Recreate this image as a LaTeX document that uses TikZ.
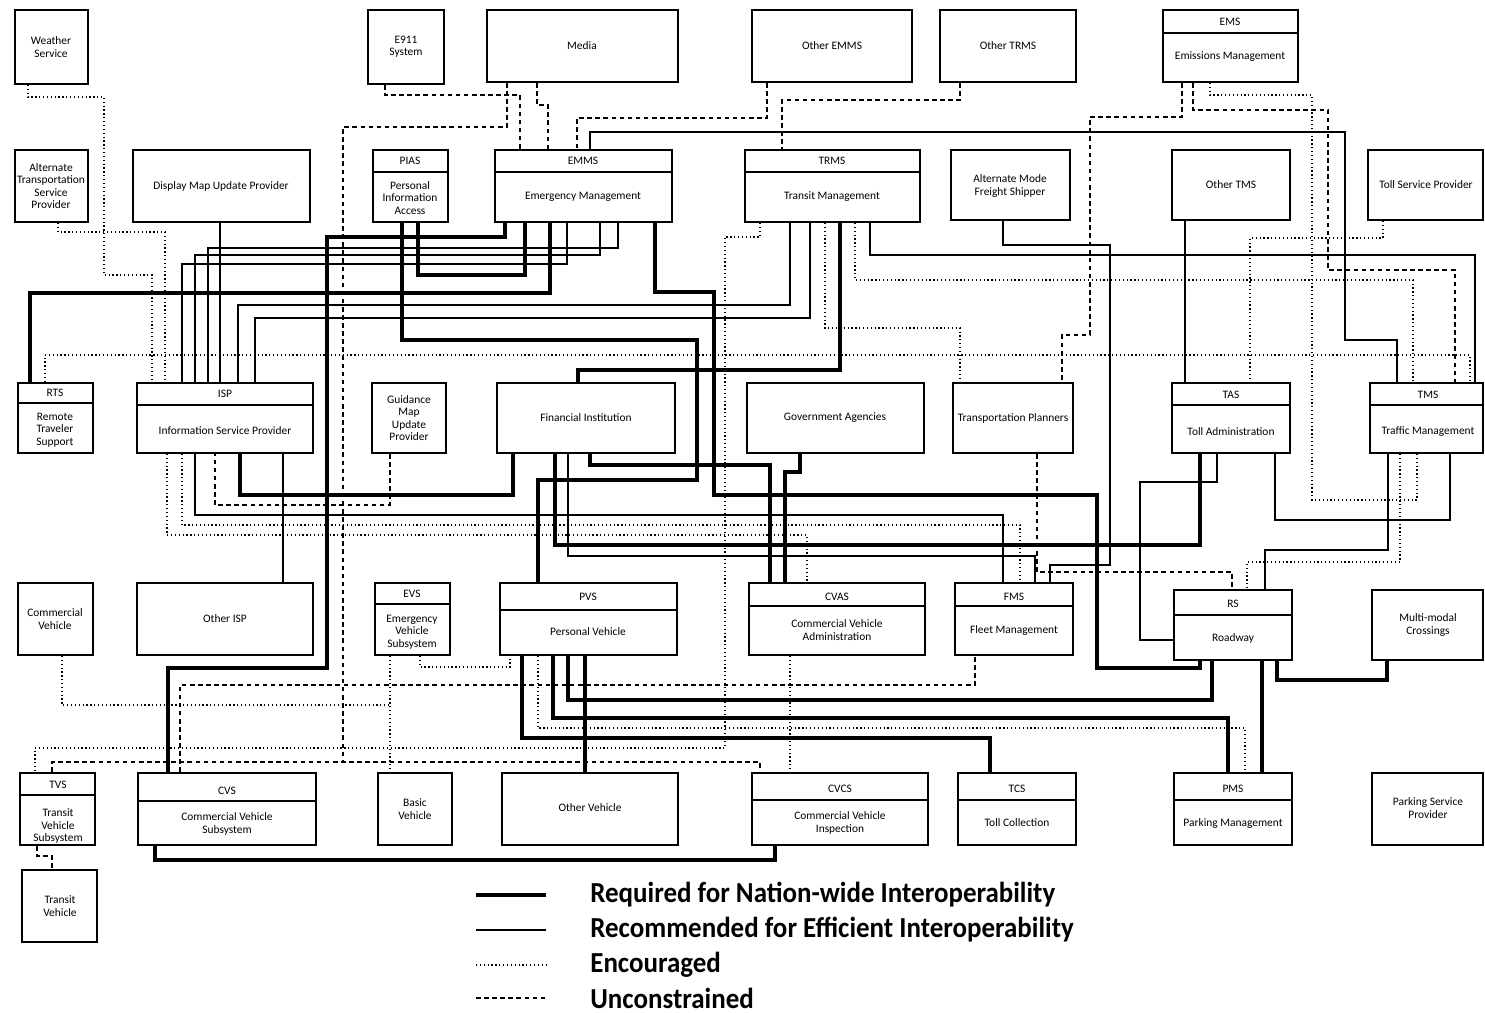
\documentclass[tikz,border=0pt]{standalone}
\usepackage{fontspec}
\setmainfont{Carlito}
\usetikzlibrary{fit}

\tikzset{
  box/.style={draw, line width=1.1pt, inner sep=0pt},
  lbl/.style={font=\fontsize{6.5}{7}\selectfont, align=center, inner sep=0.5pt},
  req/.style={line width=2pt},
  rec/.style={line width=0.6pt},
  enc/.style={line width=0.8pt, dash pattern=on 0.7pt off 1.5pt},
  unc/.style={line width=0.9pt, dash pattern=on 2.6pt off 2pt},
  legtxt/.style={font=\bfseries\fontsize{16.5}{17}\selectfont, anchor=west, inner sep=0pt}
}

\begin{document}
\begin{tikzpicture}[x=0.2mm, y=-0.2mm]
\useasboundingbox (0,0) rectangle (1485,1013);

% top row
\node[box, fit={(15,10) (88,84)}] (wx) {};
\node[lbl] (wxT) at (51,47) {Weather\\Service};
\node[box, fit={(368,10) (444,84)}] (e911) {};
\node[lbl] (e911T) at (406,47) {E911\\System};
\node[box, fit={(487,10) (678,82)}] (media) {};
\node[lbl] (mediaT) at (582,46) {Media};
\node[box, fit={(752,10) (912,82)}] (oems) {};
\node[lbl] (oemsT) at (832,46) {Other EMMS};
\node[box, fit={(940,10) (1076,82)}] (otrms) {};
\node[lbl] (otrmsT) at (1008,46) {Other TRMS};
\node[box, fit={(1163,10) (1298,82)}] (emis) {};
\draw[rec] (emis.west |- 0,33) -- (emis.east |- 0,33);
\node[lbl] (emisH) at (1230,22) {EMS};
\node[lbl] (emisT) at (1230,57) {Emissions Management};

% second row
\node[box, fit={(15,150) (88,222)}] (atsp) {};
\node[lbl] (atspT) at (51,186) {Alternate\\Transportation\\Service\\Provider};
\node[box, fit={(133,150) (310,222)}] (dmup) {};
\node[lbl] (dmupT) at (221,186) {Display Map Update Provider};
\node[box, fit={(373,150) (448,222)}] (pias) {};
\draw[rec] (pias.west |- 0,172) -- (pias.east |- 0,172);
\node[lbl] (piasH) at (410,161) {PIAS};
\node[lbl] (piasT) at (410,198) {Personal\\Information\\Access};
\node[box, fit={(495,150) (672,222)}] (ems) {};
\draw[rec] (ems.west |- 0,172) -- (ems.east |- 0,172);
\node[lbl] (emsH) at (583,161) {EMMS};
\node[lbl] (emsT) at (583,197) {Emergency Management};
\node[box, fit={(745,150) (920,222)}] (trms) {};
\draw[rec] (trms.west |- 0,172) -- (trms.east |- 0,172);
\node[lbl] (trmsH) at (832,161) {TRMS};
\node[lbl] (trmsT) at (832,197) {Transit Management};
\node[box, fit={(951,150) (1070,220)}] (amfs) {};
\node[lbl] (amfsT) at (1010,186) {Alternate Mode\\Freight Shipper};
\node[box, fit={(1172,150) (1290,220)}] (otms) {};
\node[lbl] (otmsT) at (1231,185) {Other TMS};
\node[box, fit={(1368,150) (1483,220)}] (tsp) {};
\node[lbl] (tspT) at (1426,185) {Toll Service Provider};

% third row
\node[box, fit={(18,383) (93,453)}] (rts) {};
\draw[rec] (rts.west |- 0,403) -- (rts.east |- 0,403);
\node[lbl] (rtsH) at (55,393) {RTS};
\node[lbl] (rtsT) at (55,430) {Remote\\Traveler\\Support};
\node[box, fit={(137,383) (313,453)}] (isp) {};
\draw[rec] (isp.west |- 0,405) -- (isp.east |- 0,405);
\node[lbl] (ispH) at (225,394) {ISP};
\node[lbl] (ispT) at (225,431) {Information Service Provider};
\node[box, fit={(372,383) (446,453)}] (gmup) {};
\node[lbl] (gmupT) at (409,418) {Guidance\\Map\\Update\\Provider};
\node[box, fit={(497,383) (675,453)}] (fi) {};
\node[lbl] (fiT) at (586,418) {Financial Institution};
\node[box, fit={(747,383) (924,453)}] (gov) {};
\node[lbl] (govT) at (835,418) {Government Agencies};
\node[box, fit={(953,383) (1073,453)}] (tpl) {};
\node[lbl] (tplT) at (1013,418) {Transportation Planners};
\node[box, fit={(1172,383) (1290,453)}] (tas) {};
\draw[rec] (tas.west |- 0,405) -- (tas.east |- 0,405);
\node[lbl] (tasH) at (1231,395) {TAS};
\node[lbl] (tasT) at (1231,432) {Toll Administration};
\node[box, fit={(1370,383) (1483,453)}] (tms) {};
\draw[rec] (tms.west |- 0,405) -- (tms.east |- 0,405);
\node[lbl] (tmsH) at (1428,395) {TMS};
\node[lbl] (tmsT) at (1428,432) {Traffic Management};

% fourth row
\node[box, fit={(18,583) (93,655)}] (cveh) {};
\node[lbl] (cvehT) at (55,619) {Commercial\\Vehicle};
\node[box, fit={(137,583) (313,655)}] (oisp) {};
\node[lbl] (oispT) at (225,619) {Other ISP};
\node[box, fit={(375,583) (450,655)}] (evs) {};
\draw[rec] (evs.west |- 0,604) -- (evs.east |- 0,604);
\node[lbl] (evsH) at (412,594) {EVS};
\node[lbl] (evsT) at (412,632) {Emergency\\Vehicle\\Subsystem};
\node[box, fit={(500,583) (677,655)}] (pvs) {};
\draw[rec] (pvs.west |- 0,610) -- (pvs.east |- 0,610);
\node[lbl] (pvsH) at (588,597) {PVS};
\node[lbl] (pvsT) at (588,632) {Personal Vehicle};
\node[box, fit={(749,583) (925,655)}] (cvas) {};
\draw[rec] (cvas.west |- 0,606) -- (cvas.east |- 0,606);
\node[lbl] (cvasH) at (837,597) {CVAS};
\node[lbl] (cvasT) at (837,630) {Commercial Vehicle\\Administration};
\node[box, fit={(955,583) (1073,655)}] (fms) {};
\draw[rec] (fms.west |- 0,606) -- (fms.east |- 0,606);
\node[lbl] (fmsH) at (1014,597) {FMS};
\node[lbl] (fmsT) at (1014,631) {Fleet Management};
\node[box, fit={(1174,590) (1292,660)}] (rs) {};
\draw[rec] (rs.west |- 0,615) -- (rs.east |- 0,615);
\node[lbl] (rsH) at (1233,604) {RS};
\node[lbl] (rsT) at (1233,638) {Roadway};
\node[box, fit={(1372,590) (1483,660)}] (mmc) {};
\node[lbl] (mmcT) at (1428,625) {Multi-modal\\Crossings};

% fifth row
\node[box, fit={(20,773) (95,845)}] (tvs) {};
\draw[rec] (tvs.west |- 0,795) -- (tvs.east |- 0,795);
\node[lbl] (tvsH) at (58,785) {TVS};
\node[lbl] (tvsT) at (58,826) {Transit\\Vehicle\\Subsystem};
\node[box, fit={(138,773) (316,845)}] (cvs) {};
\draw[rec] (cvs.west |- 0,801) -- (cvs.east |- 0,801);
\node[lbl] (cvsH) at (227,791) {CVS};
\node[lbl] (cvsT) at (227,824) {Commercial Vehicle\\Subsystem};
\node[box, fit={(378,773) (452,845)}] (bveh) {};
\node[lbl] (bvehT) at (415,809) {Basic\\Vehicle};
\node[box, fit={(502,773) (678,845)}] (oveh) {};
\node[lbl] (ovehT) at (590,808) {Other Vehicle};
\node[box, fit={(752,773) (928,845)}] (cvcs) {};
\draw[rec] (cvcs.west |- 0,800) -- (cvcs.east |- 0,800);
\node[lbl] (cvcsH) at (840,789) {CVCS};
\node[lbl] (cvcsT) at (840,823) {Commercial Vehicle\\Inspection};
\node[box, fit={(958,773) (1076,845)}] (tcs) {};
\draw[rec] (tcs.west |- 0,800) -- (tcs.east |- 0,800);
\node[lbl] (tcsH) at (1017,789) {TCS};
\node[lbl] (tcsT) at (1017,823) {Toll Collection};
\node[box, fit={(1174,773) (1292,845)}] (pms) {};
\draw[rec] (pms.west |- 0,800) -- (pms.east |- 0,800);
\node[lbl] (pmsH) at (1233,789) {PMS};
\node[lbl] (pmsT) at (1233,824) {Parking Management};
\node[box, fit={(1372,773) (1483,845)}] (psp) {};
\node[lbl] (pspT) at (1428,808) {Parking Service\\Provider};
\node[box, fit={(22,870) (97,942)}] (tveh) {};
\node[lbl] (tvehT) at (60,906) {Transit\\Vehicle};

% required
\draw[req] (rts.north -| 30,0) -- (30,293) -- (550,293) -- (ems.south -| 550,0);
\draw[req] (ems.south -| 505,0) -- (505,237) -- (327,237) -- (327,668) -- (168,668) -- (cvs.north -| 168,0);
\draw[req] (pias.south -| 402,0) -- (402,340) -- (697,340) -- (697,480) -- (538,480) -- (pvs.north -| 538,0);
\draw[req] (pias.south -| 418,0) -- (418,275) -- (525,275) -- (ems.south -| 525,0);
\draw[req] (ems.south -| 655,0) -- (655,292) -- (714,292) -- (714,495) -- (1097,495) -- (1097,668) -- (1200,668) -- (rs.south -| 1200,0);
\draw[req] (trms.south -| 840,0) -- (840,370) -- (578,370) -- (fi.north -| 578,0);
\draw[req] (isp.south -| 240,0) -- (240,495) -- (513,495) -- (fi.south -| 513,0);
\draw[req] (fi.south -| 555,0) -- (555,545) -- (1200,545) -- (tas.south -| 1200,0);
\draw[req] (gov.south -| 800,0) -- (800,472) -- (785,472) -- (cvas.north -| 785,0);
\draw[req] (fi.south -| 590,0) -- (590,465) -- (770,465) -- (cvas.north -| 770,0);
\draw[req] (cvs.south -| 155,0) -- (155,860) -- (775,860) -- (cvcs.south -| 775,0);
\draw[req] (pvs.south -| 585,0) -- (oveh.north -| 585,0);
\draw[req] (pvs.south -| 568,0) -- (568,700) -- (1212,700) -- (rs.south -| 1212,0);
\draw[req] (pvs.south -| 553,0) -- (553,718) -- (1228,718) -- (pms.north -| 1228,0);
\draw[req] (pvs.south -| 522,0) -- (522,738) -- (990,738) -- (tcs.north -| 990,0);
\draw[req] (rs.south -| 1262,0) -- (pms.north -| 1262,0);
\draw[req] (rs.south -| 1277,0) -- (1277,680) -- (1387,680) -- (mmc.south -| 1387,0);

% recommended
\draw[rec] (dmup.south -| 220,0) -- (isp.north -| 220,0);
\draw[rec] (otms.south -| 1185,0) -- (tas.north -| 1185,0);
\draw[rec] (trms.south -| 870,0) -- (870,255) -- (1475,255) -- (tms.north -| 1475,0);
\draw[rec] (isp.north -| 195,0) -- (195,255) -- (600,255) -- (ems.south -| 600,0);
\draw[rec] (isp.north -| 208,0) -- (208,248) -- (618,248) -- (ems.south -| 618,0);
\draw[rec] (isp.north -| 182,0) -- (182,264) -- (567,264) -- (ems.south -| 567,0);
\draw[rec] (isp.north -| 238,0) -- (238,305) -- (790,305) -- (trms.south -| 790,0);
\draw[rec] (isp.north -| 255,0) -- (255,318) -- (810,318) -- (trms.south -| 810,0);
\draw[rec] (ems.north -| 590,0) -- (590,132) -- (1345,132) -- (1345,340) -- (1397,340) -- (tms.north -| 1397,0);
\draw[rec] (tas.south -| 1275,0) -- (1275,520) -- (1450,520) -- (tms.south -| 1450,0);
\draw[rec] (tms.south -| 1388,0) -- (1388,550) -- (1265,550) -- (rs.north -| 1265,0);
\draw[rec] (amfs.south -| 1003,0) -- (1003,245) -- (1110,245) -- (1110,565) -- (1050,565) -- (fms.north -| 1050,0);
\draw[rec] (isp.south -| 195,0) -- (195,515) -- (1003,515) -- (fms.north -| 1003,0);
\draw[rec] (fi.south -| 568,0) -- (568,556) -- (1035,556) -- (fms.north -| 1035,0);
\draw[rec] (isp.south -| 283,0) -- (oisp.north -| 283,0);
\draw[rec] (tas.south -| 1217,0) -- (1217,482) -- (1140,482) -- (1140,640) -- (rs.west |- 0,640);

% encouraged
\draw[enc] (wx.south -| 28,0) -- (28,97) -- (104,97) -- (104,275) -- (152,275) -- (isp.north -| 152,0);
\draw[enc] (atsp.south -| 58,0) -- (58,232) -- (165,232) -- (isp.north -| 165,0);
\draw[enc] (rts.north -| 45,0) -- (45,355) -- (1470,355) -- (tms.north -| 1470,0);
\draw[enc] (emis.south -| 1210,0) -- (1210,95) -- (1312,95) -- (1312,500) -- (1417,500) -- (tms.south -| 1417,0);
\draw[enc] (tsp.south -| 1383,0) -- (1383,238) -- (1250,238) -- (tas.north -| 1250,0);
\draw[enc] (trms.south -| 825,0) -- (825,328) -- (960,328) -- (tpl.north -| 960,0);
\draw[enc] (trms.south -| 855,0) -- (855,280) -- (1413,280) -- (tms.north -| 1413,0);
\draw[enc] (trms.south -| 760,0) -- (760,237) -- (725,237) -- (725,748) -- (35,748) -- (tvs.north -| 35,0);
\draw[enc] (isp.south -| 182,0) -- (182,525) -- (1020,525) -- (fms.north -| 1020,0);
\draw[enc] (isp.south -| 167,0) -- (167,535) -- (807,535) -- (cvas.north -| 807,0);
\draw[enc] (tms.south -| 1400,0) -- (1400,562) -- (1247,562) -- (rs.north -| 1247,0);
\draw[enc] (evs.south -| 390,0) -- (bveh.north -| 390,0);
\draw[enc] (cveh.south -| 62,0) -- (62,705) -- (390,705);
\draw[enc] (evs.south -| 420,0) -- (420,667) -- (510,667) -- (pvs.south -| 510,0);
\draw[enc] (pvs.south -| 538,0) -- (538,728) -- (1245,728) -- (pms.north -| 1245,0);
\draw[enc] (cvas.south -| 790,0) -- (cvcs.north -| 790,0);

% unconstrained
\draw[unc] (media.south -| 507,0) -- (507,127) -- (343,127) -- (343,762);
\draw[unc] (e911.south -| 385,0) -- (385,95) -- (520,95) -- (ems.north -| 520,0);
\draw[unc] (media.south -| 537,0) -- (537,105) -- (548,105) -- (ems.north -| 548,0);
\draw[unc] (oems.south -| 767,0) -- (767,118) -- (577,118) -- (ems.north -| 577,0);
\draw[unc] (otrms.south -| 960,0) -- (960,100) -- (782,100) -- (trms.north -| 782,0);
\draw[unc] (emis.south -| 1193,0) -- (1193,110) -- (1328,110) -- (1328,270) -- (1455,270) -- (tms.north -| 1455,0);
\draw[unc] (emis.south -| 1182,0) -- (1182,117) -- (1090,117) -- (1090,335) -- (1062,335) -- (tpl.north -| 1062,0);
\draw[unc] (gmup.south -| 390,0) -- (390,505) -- (215,505) -- (isp.south -| 215,0);
\draw[unc] (tpl.south -| 1037,0) -- (1037,572) -- (1232,572) -- (rs.north -| 1232,0);
\draw[unc] (cvs.north -| 180,0) -- (180,685) -- (975,685) -- (fms.south -| 975,0);
\draw[unc] (tvs.north -| 52,0) -- (52,762) -- (760,762) -- (cvcs.north -| 760,0);
\draw[unc] (tvs.south -| 37,0) -- (37,856) -- (52,856) -- (tveh.north -| 52,0);

% legend
\draw[req] (476,895) coordinate (l1a) -- (546,895) coordinate (l1b);
\draw[rec] (476,930) coordinate (l2a) -- (546,930) coordinate (l2b);
\draw[enc] (476,965) coordinate (l3a) -- (546,965) coordinate (l3b);
\draw[unc] (476,998) coordinate (l4a) -- (546,998) coordinate (l4b);
\node[legtxt] (leg1) at (590,895) {\scalebox{0.93}[1]{Required for Nation-wide Interoperability}};
\node[legtxt] (leg2) at (590,930) {\scalebox{0.93}[1]{Recommended for Efficient Interoperability}};
\node[legtxt] (leg3) at (590,965) {\scalebox{0.93}[1]{Encouraged}};
\node[legtxt] (leg4) at (590,998) {\scalebox{0.93}[1]{Unconstrained}};
\end{tikzpicture}
\end{document}
